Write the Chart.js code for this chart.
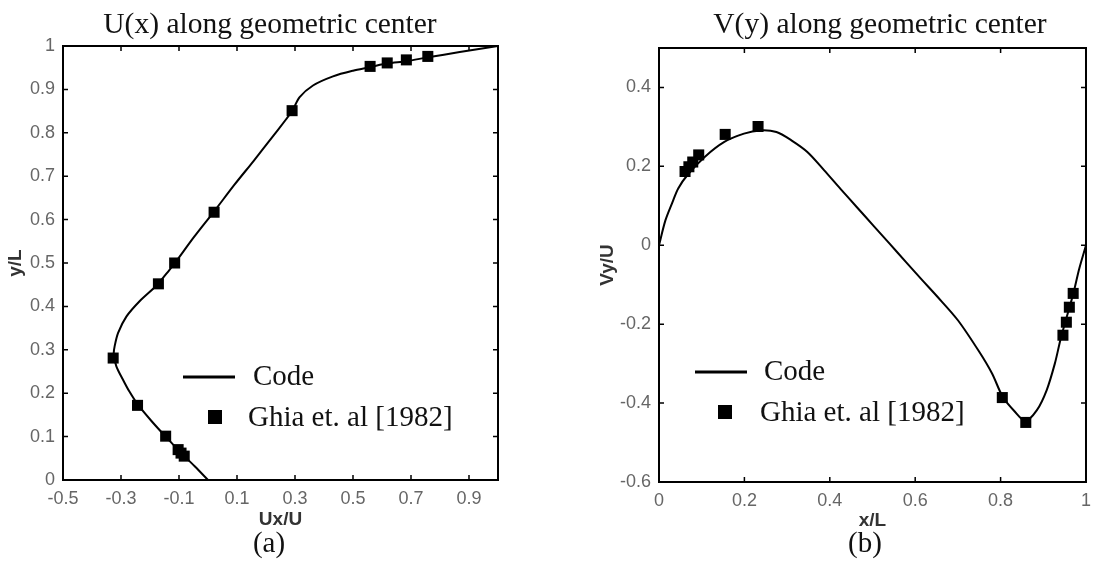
<!DOCTYPE html>
<html>
<head>
<meta charset="utf-8">
<script src="https://cdn.jsdelivr.net/npm/chart.js@4.4.0/dist/chart.umd.min.js"></script>
<style>
  body { margin: 0; background: #fff; }
  #wrap { position: relative; width: 1099px; height: 563px; }
  canvas { position: absolute; top: 0; }
  #chartU { left: 0; }
  #chartV { left: 550px; }
</style>
</head>
<body>
<div id="wrap">
  <canvas id="chartU" width="550" height="563"></canvas>
  <canvas id="chartV" width="549" height="563"></canvas>
</div>
<script>
// (a) horizontal velocity along the vertical centre line
const uCodeY = [0, 0.031, 0.058, 0.100, 0.136, 0.173, 0.205, 0.231, 0.262, 0.290, 0.308, 0.339, 0.377, 0.412, 0.450, 0.485, 0.499, 0.560, 0.618, 0.681, 0.735, 0.793, 0.849, 0.882, 0.909, 0.930, 0.943, 0.951, 0.960, 0.965, 0.974, 0.986, 1.0];
const uCodeU = [0, -0.045, -0.086, -0.146, -0.195, -0.241, -0.272, -0.293, -0.316, -0.325, -0.322, -0.310, -0.281, -0.236, -0.175, -0.132, -0.115, -0.048, 0.020, 0.092, 0.157, 0.225, 0.289, 0.316, 0.362, 0.431, 0.500, 0.558, 0.619, 0.684, 0.759, 0.868, 1.0];
const uGhiaY = [0.055, 0.062, 0.070, 0.101, 0.172, 0.281, 0.452, 0.500, 0.617, 0.851, 0.953, 0.961, 0.968, 0.976];
const uGhiaU = [-0.082, -0.093, -0.103, -0.146, -0.243, -0.327, -0.171, -0.115, 0.021, 0.290, 0.559, 0.618, 0.684, 0.758];

// (b) vertical velocity along the horizontal centre line
const vCodeX = [0, 0.015, 0.030, 0.045, 0.068, 0.107, 0.153, 0.199, 0.237, 0.275, 0.310, 0.348, 0.387, 0.425, 0.463, 0.502, 0.540, 0.578, 0.617, 0.650, 0.700, 0.750, 0.780, 0.805, 0.832, 0.858, 0.885, 0.908, 0.927, 0.940, 0.950, 0.962, 0.972, 0.984, 1.0];
const vCodeV = [0, 0.063, 0.105, 0.144, 0.180, 0.224, 0.262, 0.283, 0.291, 0.287, 0.266, 0.236, 0.190, 0.143, 0.097, 0.050, 0.004, -0.042, -0.089, -0.128, -0.190, -0.270, -0.325, -0.384, -0.420, -0.445, -0.418, -0.367, -0.300, -0.240, -0.200, -0.155, -0.115, -0.060, 0];
const vGhiaX = [0.061, 0.070, 0.079, 0.093, 0.155, 0.232, 0.804, 0.859, 0.946, 0.954, 0.961, 0.970];
const vGhiaV = [0.187, 0.199, 0.211, 0.229, 0.281, 0.301, -0.386, -0.449, -0.228, -0.195, -0.157, -0.122];

const uTicksX = [-0.5, -0.3, -0.1, 0.1, 0.3, 0.5, 0.7, 0.9];
const uTicksY = [0, 0.1, 0.2, 0.3, 0.4, 0.5, 0.6, 0.7, 0.8, 0.9, 1];
const vTicksX = [0, 0.2, 0.4, 0.6, 0.8, 1];
const vTicksY = [-0.6, -0.4, -0.2, 0, 0.2, 0.4];

const legendLabels = ['Code', 'Ghia et. al [1982]'];

function toPoints(xs, ys) {
  return xs.map((v, i) => ({ x: v, y: ys[i] }));
}

function fmt(v) {
  return String(Math.round(v * 10) / 10);
}

// box, inward ticks, title, caption and the in-plot legend
const framePlugin = {
  id: 'frame',
  afterDraw(chart, args, o) {
    const ctx = chart.ctx;
    const a = chart.chartArea;
    const xs = chart.scales.x, ys = chart.scales.y;
    ctx.save();
    ctx.strokeStyle = '#000';
    ctx.lineWidth = 2;
    ctx.strokeRect(a.left, a.top, a.right - a.left, a.bottom - a.top);
    ctx.lineWidth = 1.5;
    ctx.beginPath();
    xs.ticks.forEach(t => {
      const px = xs.getPixelForValue(t.value);
      ctx.moveTo(px, a.bottom); ctx.lineTo(px, a.bottom - 5);
      ctx.moveTo(px, a.top); ctx.lineTo(px, a.top + 5);
    });
    ys.ticks.forEach(t => {
      const py = ys.getPixelForValue(t.value);
      ctx.moveTo(a.left, py); ctx.lineTo(a.left + 5, py);
      ctx.moveTo(a.right, py); ctx.lineTo(a.right - 5, py);
    });
    ctx.stroke();

    ctx.fillStyle = '#111';
    ctx.font = '29.5px "Liberation Serif"';
    ctx.textAlign = 'center';
    ctx.textBaseline = 'alphabetic';
    ctx.fillText(o.title, o.titleX, o.titleY);
    ctx.font = '29px "Liberation Serif"';
    ctx.fillText(o.caption, o.captionX, o.captionY);

    const lg = o.legend;
    ctx.lineWidth = 3;
    ctx.beginPath();
    ctx.moveTo(lg.lineX1, lg.lineY);
    ctx.lineTo(lg.lineX2, lg.lineY);
    ctx.stroke();
    ctx.fillStyle = '#000';
    ctx.fillRect(lg.boxX - 7, lg.boxY - 7, 14, 14);
    ctx.fillStyle = '#111';
    ctx.textAlign = 'left';
    ctx.fillText(legendLabels[0], lg.codeX, lg.codeY);
    ctx.fillText(legendLabels[1], lg.ghiaX, lg.ghiaY);
    ctx.restore();
  }
};

function tickOpts() {
  return {
    font: { family: 'Liberation Sans', size: 18 },
    color: '#666',
    padding: 8,
    autoSkip: false,
    maxRotation: 0,
    callback: v => fmt(v)
  };
}

function axisTitle(text, padding) {
  return {
    display: true,
    text: text,
    color: '#333',
    font: { family: 'Liberation Sans', size: 19, weight: 'bold' },
    padding: padding
  };
}

function makeChart(id, cfg) {
  return new Chart(document.getElementById(id), {
    type: 'scatter',
    data: {
      datasets: [{
        data: cfg.line,
        showLine: true,
        borderColor: '#000',
        borderWidth: 2,
        pointRadius: 0,
        tension: 0.3
      }, {
        data: cfg.marks,
        showLine: false,
        pointStyle: 'rect',
        pointRadius: 7.8,
        borderWidth: 0,
        backgroundColor: '#000'
      }]
    },
    options: {
      responsive: false,
      animation: false,
      events: [],
      layout: { padding: cfg.padding },
      plugins: {
        legend: { display: false },
        tooltip: { enabled: false },
        frame: cfg.frame
      },
      scales: {
        x: {
          type: 'linear',
          min: cfg.xMin, max: cfg.xMax,
          afterBuildTicks: s => { s.ticks = cfg.xTicks.map(v => ({ value: v })); },
          afterFit: s => { s.height = cfg.xHeight; },
          grid: { display: false, drawTicks: false },
          border: { display: false },
          ticks: tickOpts(),
          title: axisTitle(cfg.xTitle, cfg.xTitlePad)
        },
        y: {
          type: 'linear',
          min: cfg.yMin, max: cfg.yMax,
          afterBuildTicks: s => { s.ticks = cfg.yTicks.map(v => ({ value: v })); },
          afterFit: s => { s.width = cfg.yWidth; },
          grid: { display: false, drawTicks: false },
          border: { display: false },
          ticks: tickOpts(),
          title: axisTitle(cfg.yTitle, cfg.yTitlePad)
        }
      }
    },
    plugins: [framePlugin]
  });
}

makeChart('chartU', {
  line: toPoints(uCodeU, uCodeY),
  marks: toPoints(uGhiaU, uGhiaY),
  xMin: -0.5, xMax: 1, yMin: 0, yMax: 1,
  xTicks: uTicksX, yTicks: uTicksY,
  padding: { top: 46, right: 52, bottom: 30, left: 0 },
  xHeight: 53, yWidth: 63,
  xTitle: 'Ux/U', xTitlePad: { top: 0, bottom: 2 },
  yTitle: 'y/L', yTitlePad: { top: 4, bottom: 0 },
  frame: {
    title: 'U(x) along geometric center', titleX: 270, titleY: 33,
    caption: '(a)', captionX: 269, captionY: 552,
    legend: { lineX1: 183, lineX2: 235, lineY: 377, codeX: 253, codeY: 385,
              boxX: 215, boxY: 417, ghiaX: 248, ghiaY: 426 }
  }
});

makeChart('chartV', {
  line: toPoints(vCodeX, vCodeV),
  marks: toPoints(vGhiaX, vGhiaV),
  xMin: 0, xMax: 1, yMin: -0.6, yMax: 0.5,
  xTicks: vTicksX, yTicks: vTicksY,
  padding: { top: 48, right: 6, bottom: 30, left: 0 },
  xHeight: 51, yWidth: 109,
  xTitle: 'x/L', xTitlePad: { top: 0, bottom: 1 },
  yTitle: 'Vy/U', yTitlePad: { top: 46, bottom: 0 },
  frame: {
    title: 'V(y) along geometric center', titleX: 330, titleY: 33,
    caption: '(b)', captionX: 315, captionY: 552,
    legend: { lineX1: 145, lineX2: 197, lineY: 372, codeX: 214, codeY: 380,
              boxX: 175, boxY: 412, ghiaX: 210, ghiaY: 421 }
  }
});
</script>
</body>
</html>
